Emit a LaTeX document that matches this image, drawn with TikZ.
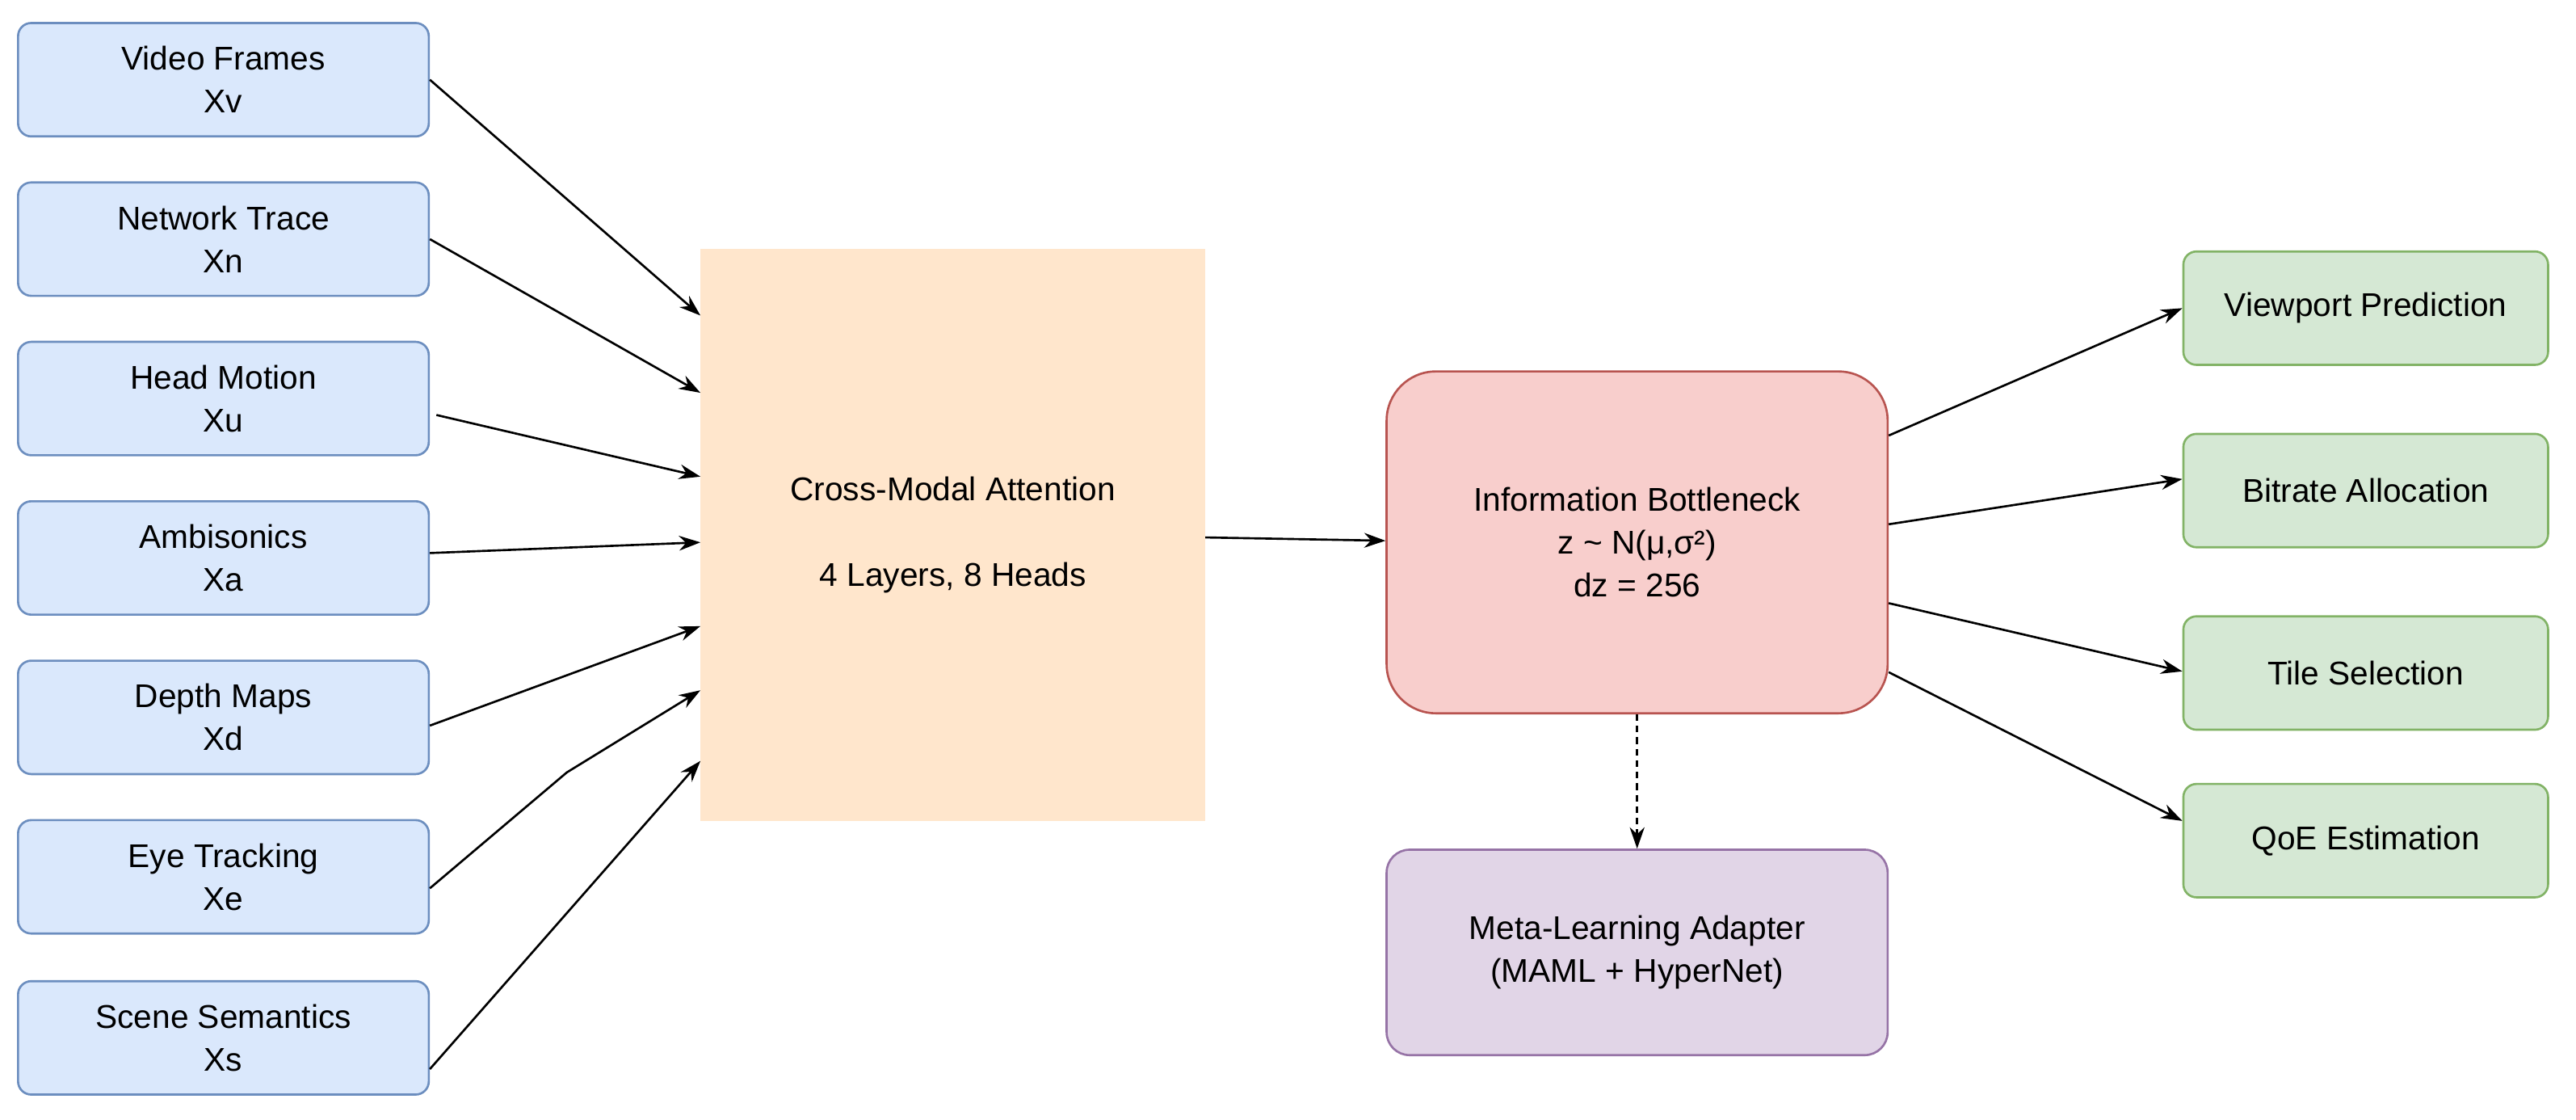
\documentclass[tikz,border=0pt]{standalone}
\usepackage{fontspec}
\setmainfont{Liberation Sans}
\usetikzlibrary{arrows.meta}
\definecolor{inFill}{HTML}{DAE8FC}\definecolor{inDraw}{HTML}{6C8EBF}
\definecolor{attFill}{HTML}{FFE6CC}
\definecolor{ibFill}{HTML}{F8CECC}\definecolor{ibDraw}{HTML}{B85450}
\definecolor{metaFill}{HTML}{E1D5E7}\definecolor{metaDraw}{HTML}{9673A6}
\definecolor{outFill}{HTML}{D5E8D4}\definecolor{outDraw}{HTML}{82B366}
\tikzset{
    box/.style = { draw, line width=1.3pt, rounded corners=8pt, align=center, font=\fontsize{20}{26}\selectfont, inner sep=0pt },
    input/.style = { box, fill=inFill, draw=inDraw, minimum width=250pt, minimum height=69pt },
    output/.style = { box, fill=outFill, draw=outDraw, minimum width=222pt, minimum height=69pt },
    link/.style = { line width=1.3pt, -{Stealth[length=13pt,width=9pt]} }
}
\begin{document}
\begin{tikzpicture}[x=1pt,y=-1pt]
    \useasboundingbox (0,0) rectangle (1568,681);
    %%% Inputs
    \foreach \name / \title / \sym / \y in {vid/Video Frames/Xv/48.5, net/Network Trace/Xn/145.5, head/Head Motion/Xu/242.5, amb/Ambisonics/Xa/339.5, dep/Depth Maps/Xd/436.5, eye/Eye Tracking/Xe/533.5, sce/Scene Semantics/Xs/631.5}
      {
        \node[input] (\name) at (136,\y) {\title\\\sym};
      }
    %%% Middle blocks
    \node[box, fill=attFill, draw=attFill, rounded corners=0pt, minimum width=306pt, minimum height=347pt] (att) at (580,325.5) {Cross-Modal Attention\\[26pt]4 Layers, 8 Heads};
    \node[box, fill=ibFill, draw=ibDraw, rounded corners=30pt, minimum width=305pt, minimum height=208pt] (ib) at (996.5,330) {Information Bottleneck\\z \textasciitilde{} N(μ,σ²)\\dz = 256};
    \node[box, fill=metaFill, draw=metaDraw, rounded corners=14pt, minimum width=305pt, minimum height=125pt] (meta) at (996.5,579.5) {Meta-Learning Adapter\\(MAML + HyperNet)};
    %%% Outputs
    \foreach \name / \title / \y in {view/Viewport Prediction/187.5, bit/Bitrate Allocation/298.5, tile/Tile Selection/409.5, qoe/QoE Estimation/511.5}
      {
        \node[output] (\name) at (1440,\y) {\title};
      }
    %%% Connectors
    \draw[link] (vid.east) -- (att.west |- 0,192);
    \draw[link] (net.east) -- (att.west |- 0,239);
    \draw[link] ([xshift=4pt,yshift=-10pt]head.east) -- (att.west |- 0,290);
    \draw[link] ([yshift=3pt]amb.east) -- (att.west |- 0,330);
    \draw[link] ([yshift=-5pt]dep.east) -- (att.west |- 0,381);
    \draw[link] ([yshift=-7pt]eye.east) -- (345,470) -- (att.west |- 0,420);
    \draw[link] ([yshift=-19pt]sce.east) -- (att.west |- 0,463);
    \draw[link] (att.east |- 0,327) -- (ib.west |- 0,329);
    \draw[link] (ib.east |- 0,265) -- (view.west);
    \draw[link] (ib.east |- 0,319) -- ([yshift=7pt]bit.west);
    \draw[link] (ib.east |- 0,367) -- ([yshift=1pt]tile.west);
    \draw[link] (ib.east |- 0,409) -- ([yshift=12pt]qoe.west);
    \draw[link, dashed, dash pattern=on 4pt off 3pt] (ib.south) -- (meta.north);
\end{tikzpicture}
\end{document}
